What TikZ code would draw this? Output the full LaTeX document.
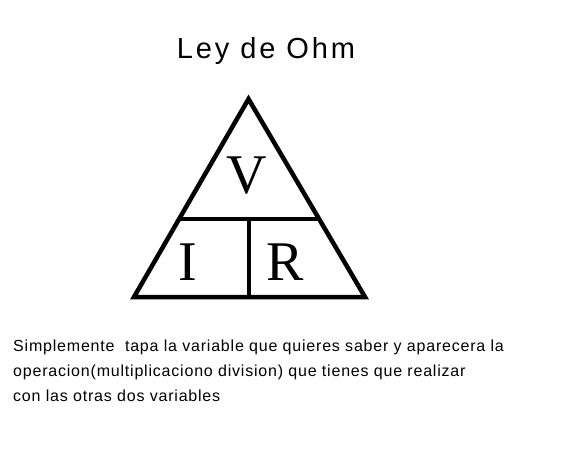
\documentclass[tikz,border=0pt]{standalone}
\usepackage{fontspec}
\setmainfont{Liberation Serif}
\newfontfamily\handwide[LetterSpace=10]{Liberation Sans}
\newfontfamily\notefont[LetterSpace=5]{Liberation Sans}
\usetikzlibrary{calc}

\begin{document}
\begin{tikzpicture}[x=1pt,y=-1pt,
  edge/.style={draw=black,line width=4.5pt},
  letter/.style={font=\fontsize{56}{56}\selectfont},
  note/.style={font=\notefont\fontsize{16}{25}\selectfont,align=left,anchor=north west,inner sep=0pt}
]
\useasboundingbox (0,0) rectangle (567,460);
\node[font=\handwide\fontsize{29}{29}\selectfont] (title) at (266,51) {Ley de Ohm};
% triangle corners
\coordinate (apex) at (248.5,99);
\coordinate (bl) at (134,297);
\coordinate (br) at (365,297);
\coordinate (ml) at ($(apex)!0.606!(bl)$);
\coordinate (mr) at ($(apex)!0.606!(br)$);
\coordinate (mid) at ($(ml)!0.5!(mr)$);
\coordinate (bmid) at (mid |- bl);
\draw[edge] (apex) -- (bl) -- (br) -- cycle;
\draw[edge] (ml) -- (mr);
\draw[edge] (mid) -- (bmid);
\node[letter] (v) at (247,176) {V};
\node[letter] (i) at (188,262) {I};
\node[letter] (r) at (285,262) {R};
\node[note] (texto) at (13,340) {Simplemente\ \ tapa la variable que quieres saber y aparecera la\\
operacion(multiplicaciono division) que tienes que realizar\\
con las otras dos variables};
\end{tikzpicture}
\end{document}
